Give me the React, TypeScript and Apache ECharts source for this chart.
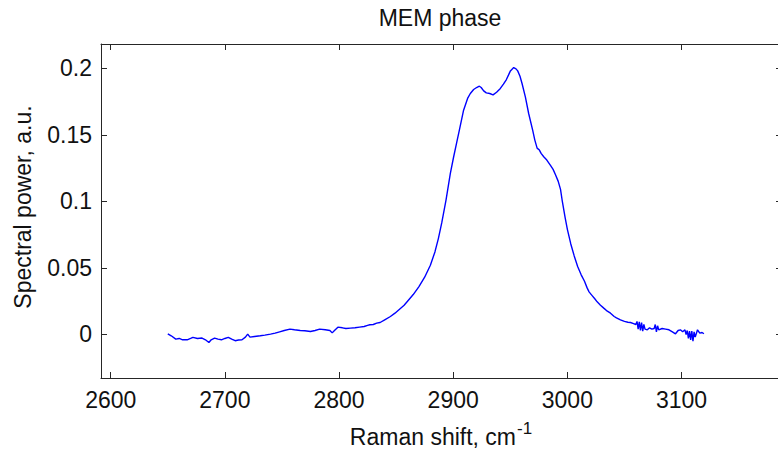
import React, { useEffect, useRef } from "react";
import * as echarts from "echarts";

const ramanShift = [
  2650, 2653, 2657, 2660, 2663, 2667, 2670, 2672, 2676, 2680, 2683, 2686, 2688, 2691, 2694, 2697, 2700,
  2703, 2706, 2709, 2712, 2715, 2718, 2720, 2722, 2726, 2731, 2735, 2740, 2744, 2748, 2752, 2757, 2761,
  2766, 2770, 2775, 2779, 2783, 2788, 2792, 2794, 2796, 2799, 2803, 2806, 2810, 2814, 2818, 2822, 2825,
  2827, 2830, 2833, 2836, 2840, 2845, 2849, 2853, 2857, 2860, 2865, 2870, 2875, 2880, 2884, 2887, 2890,
  2893.7, 2897.5, 2900.4, 2903, 2905.4, 2909.1, 2912.6, 2915, 2917.9, 2920.5, 2922.9, 2924.5, 2926.7,
  2929, 2932, 2934.9, 2938, 2941.3, 2944, 2946.6, 2948.5, 2950.1, 2953, 2955, 2956.5, 2958.5, 2960.3,
  2963.2, 2966.1, 2969.6, 2971.5, 2973.5, 2975.5, 2977, 2979.3, 2982, 2985.2, 2987.5, 2989.6, 2992, 2994,
  2995.4, 2998, 3000, 3003, 3006, 3009, 3012, 3015, 3017.3, 3019, 3021.7, 3024, 3026.1, 3029, 3031.9,
  3035, 3037.8, 3041, 3043, 3046.5, 3050, 3053, 3055.3, 3058, 3060, 3061, 3062, 3063, 3064, 3065, 3066,
  3067, 3068, 3070, 3072, 3074, 3076, 3077, 3078, 3079, 3080, 3083, 3086, 3089, 3092, 3094.7, 3097, 3099,
  3101, 3103, 3104, 3105, 3106, 3107, 3108, 3109, 3110, 3111, 3112, 3114, 3116, 3118, 3119.6,
];

const spectralPower = [
  0.0005, -0.001, -0.0035, -0.003, -0.004, -0.004, -0.003, -0.0022, -0.003, -0.0027, -0.004, -0.006,
  -0.004, -0.0027, -0.0035, -0.004, -0.003, -0.0022, -0.0035, -0.0047, -0.0042, -0.004, -0.002, 0.0003,
  -0.002, -0.0015, -0.001, -0.0005, 0.0003, 0.001, 0.002, 0.003, 0.004, 0.0035, 0.003, 0.0028, 0.0022,
  0.003, 0.004, 0.0035, 0.003, 0.0012, 0.003, 0.0055, 0.005, 0.0045, 0.0048, 0.005, 0.0055, 0.006, 0.0068,
  0.0073, 0.0075, 0.0085, 0.009, 0.011, 0.0135, 0.016, 0.019, 0.022, 0.025, 0.03, 0.036, 0.043, 0.052,
  0.062, 0.072, 0.084, 0.101, 0.121, 0.1335, 0.144, 0.1535, 0.1685, 0.1773, 0.181, 0.184, 0.1855, 0.1865,
  0.1855, 0.183, 0.1815, 0.181, 0.18, 0.182, 0.1848, 0.188, 0.1915, 0.195, 0.198, 0.2005, 0.1995, 0.198,
  0.194, 0.1885, 0.1785, 0.166, 0.1535, 0.146, 0.14, 0.1385, 0.136, 0.1335, 0.131, 0.127, 0.124, 0.12,
  0.115, 0.109, 0.101, 0.088, 0.079, 0.068, 0.059, 0.051, 0.045, 0.04, 0.035, 0.032, 0.0292, 0.0268,
  0.0245, 0.022, 0.0198, 0.0175, 0.016, 0.0135, 0.0125, 0.011, 0.0098, 0.0092, 0.009, 0.0082, 0.0075,
  0.0098, 0.004, 0.0095, 0.003, 0.009, 0.0025, 0.0075, 0.004, 0.0035, 0.005, 0.004, 0.0045, 0.0075, 0.002,
  0.0065, 0.0035, 0.0045, 0.004, 0.0035, 0.002, 0.0005, 0.003, 0.0035, 0.002, 0.0035, 0.0, 0.003, -0.003,
  0.0025, -0.004, 0.0025, -0.005, 0.002, -0.002, 0.0035, 0.001, 0.0015, 0.0005,
];

const xTicks = [2600, 2700, 2800, 2900, 3000, 3100];
const yTicks = [0, 0.05, 0.1, 0.15, 0.2];

const titleText = "MEM phase";
const xLabelText = "Raman shift, cm";
const xLabelSup = "-1";
const yLabelText = "Spectral power, a.u.";

export default function App() {
  const ref = useRef<HTMLDivElement>(null);

  useEffect(() => {
    const chart = echarts.init(ref.current!, null, { renderer: "svg" });
    const font = '"Liberation Sans", Arial, Helvetica, sans-serif';
    const axisColor = "#262626";
    const xRange = { min: 2591.5, max: 3188 };
    const yRange = { min: -0.0327, max: 0.2182 };

    const lineStyle = { color: axisColor, width: 1 };

    chart.setOption({
      animation: false,
      backgroundColor: "#ffffff",
      grid: { left: 101, top: 44, width: 681, height: 334, containLabel: false },
      xAxis: [
        {
          type: "value",
          position: "bottom",
          ...xRange,
          axisLine: { show: true, onZero: false, lineStyle },
          axisTick: { show: true, inside: true, length: 6, customValues: xTicks, lineStyle },
          axisLabel: {
            show: true,
            customValues: xTicks,
            formatter: (v: number) => String(v),
            margin: 10,
            color: "#111",
            fontSize: 23,
            fontFamily: font,
          },
          splitLine: { show: false },
        },
        {
          type: "value",
          position: "top",
          ...xRange,
          axisLine: { show: true, onZero: false, lineStyle },
          axisTick: { show: true, inside: true, length: 6, customValues: xTicks, lineStyle },
          axisLabel: { show: false },
          splitLine: { show: false },
        },
      ],
      yAxis: [
        {
          type: "value",
          position: "left",
          ...yRange,
          axisLine: { show: true, onZero: false, lineStyle },
          axisTick: { show: true, inside: true, length: 6, customValues: yTicks, lineStyle },
          axisLabel: {
            show: true,
            customValues: yTicks,
            formatter: (v: number) => String(v),
            margin: 9,
            color: "#111",
            fontSize: 23,
            fontFamily: font,
          },
          splitLine: { show: false },
        },
        {
          type: "value",
          position: "right",
          ...yRange,
          axisLine: { show: true, onZero: false, lineStyle },
          axisTick: { show: true, inside: true, length: 6, customValues: yTicks, lineStyle },
          axisLabel: { show: false },
          splitLine: { show: false },
        },
      ],
      graphic: [
        {
          type: "text",
          x: 440,
          y: 18,
          style: {
            text: titleText,
            fontSize: 23,
            fontFamily: font,
            fill: "#111",
            align: "center",
            verticalAlign: "middle",
          },
        },
        {
          type: "text",
          x: 516,
          y: 437,
          style: {
            text: xLabelText,
            fontSize: 23,
            fontFamily: font,
            fill: "#111",
            align: "right",
            verticalAlign: "middle",
          },
        },
        {
          type: "text",
          x: 517,
          y: 428,
          style: {
            text: xLabelSup,
            fontSize: 17,
            fontFamily: font,
            fill: "#111",
            align: "left",
            verticalAlign: "middle",
          },
        },
        {
          type: "text",
          x: 22.5,
          y: 207,
          rotation: Math.PI / 2,
          style: {
            text: yLabelText,
            fontSize: 23,
            fontFamily: font,
            fill: "#111",
            align: "center",
            verticalAlign: "middle",
          },
        },
      ],
      series: [
        {
          type: "line",
          xAxisIndex: 0,
          yAxisIndex: 0,
          data: ramanShift.map((x, i) => [x, spectralPower[i]]),
          showSymbol: false,
          symbol: "none",
          clip: true,
          lineStyle: { color: "#0000ff", width: 1.4 },
        },
      ],
    });

    return () => chart.dispose();
  }, []);

  return (
    <div
      style={{
        position: "absolute",
        left: 0,
        top: 0,
        width: 778,
        height: 452,
        overflow: "hidden",
        background: "#ffffff",
      }}
    >
      <div ref={ref} style={{ width: 800, height: 452 }} />
    </div>
  );
}
